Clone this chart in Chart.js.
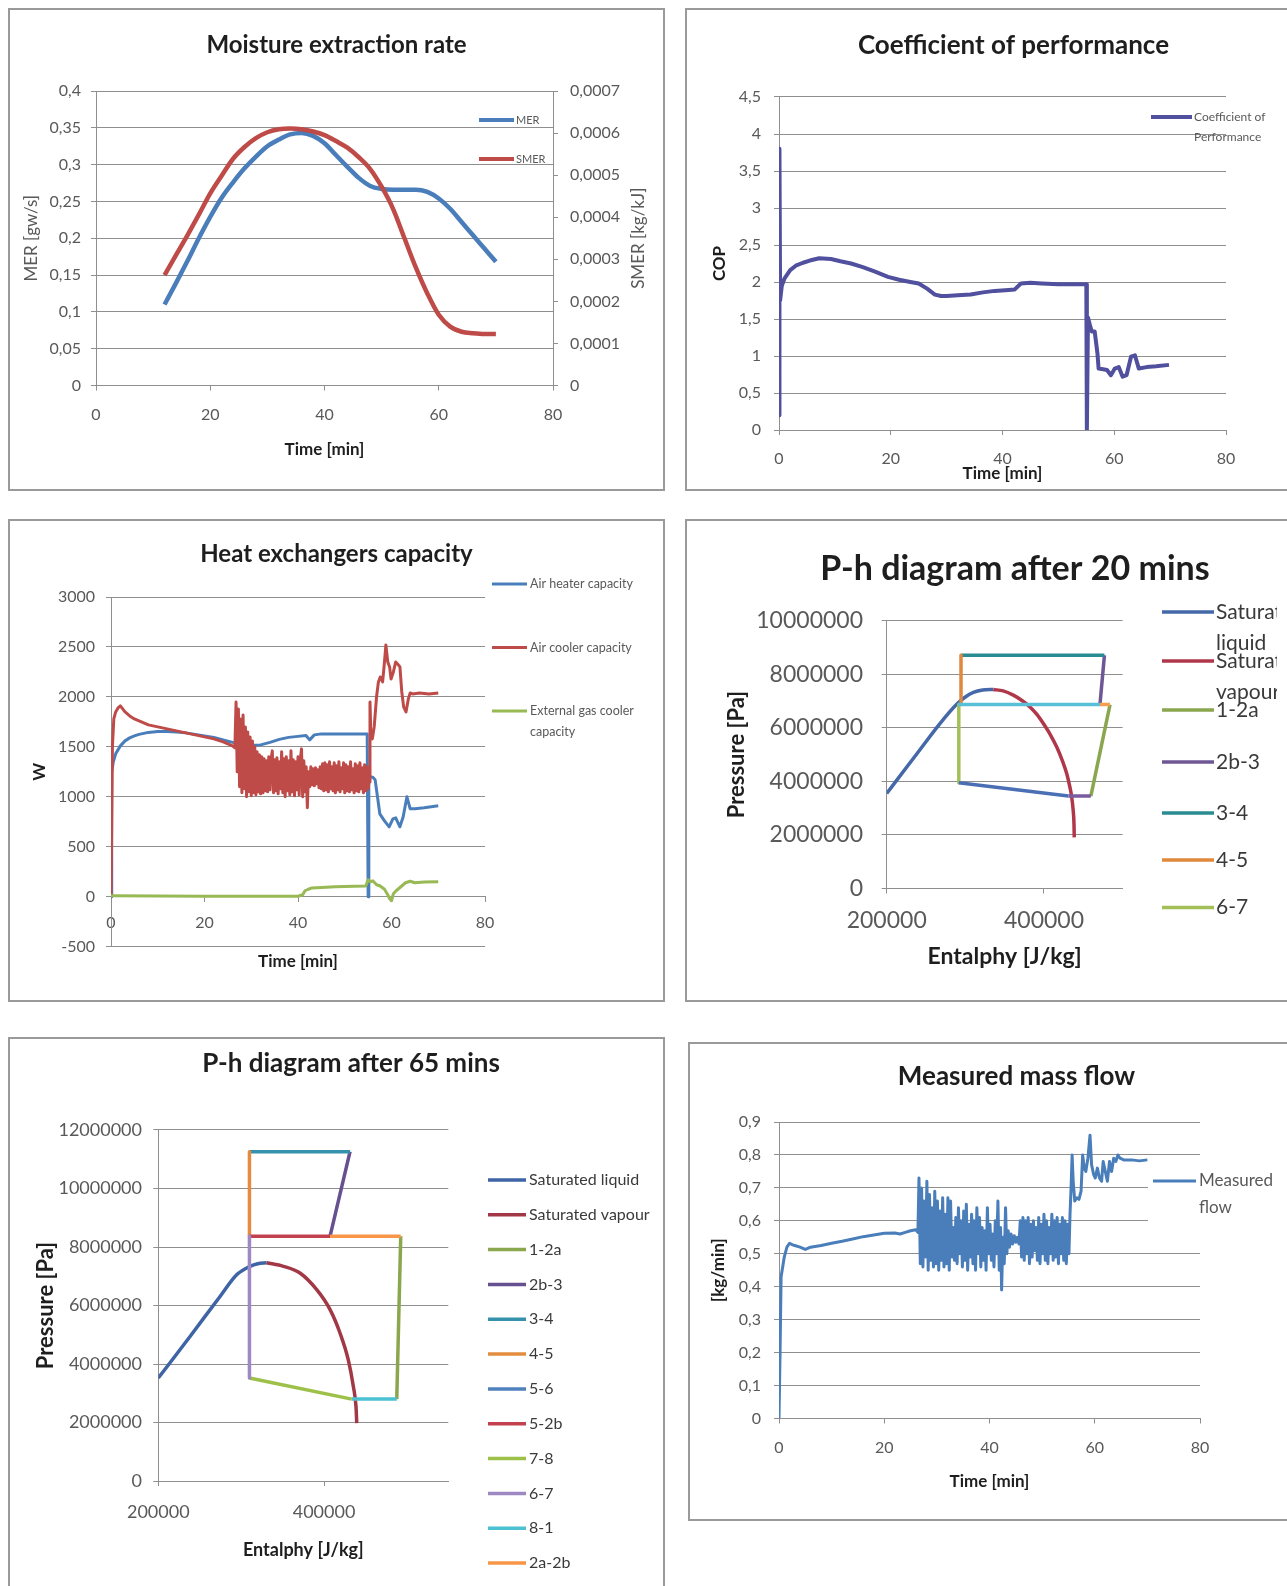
<!DOCTYPE html>
<html><head><meta charset="utf-8">
<script src="https://cdn.jsdelivr.net/npm/chart.js@4.4.1/dist/chart.umd.min.js"></script>
<style>
html,body{margin:0;padding:0;width:1287px;height:1586px;overflow:hidden;background:#fff;}
canvas{position:absolute;}
.frame{position:absolute;border:2px solid #9a9a9a;box-sizing:border-box;pointer-events:none;}
</style></head><body>
<canvas id="c1" width="657" height="483" style="left:8px;top:8px"></canvas>
<canvas id="c2" width="657" height="483" style="left:685px;top:8px"></canvas>
<canvas id="c3" width="657" height="483" style="left:8px;top:519px"></canvas>
<canvas id="c4" width="660" height="483" style="left:685px;top:519px"></canvas>
<canvas id="c5" width="686" height="560" style="left:8px;top:1037px"></canvas>
<canvas id="c6" width="657" height="479" style="left:688px;top:1042px"></canvas>
<div class="frame" style="left:8px;top:8px;width:657px;height:483px"></div>
<div class="frame" style="left:685px;top:8px;width:657px;height:483px"></div>
<div class="frame" style="left:8px;top:519px;width:657px;height:483px"></div>
<div class="frame" style="left:685px;top:519px;width:657px;height:483px"></div>
<div class="frame" style="left:8px;top:1037px;width:657px;height:580px"></div>
<div class="frame" style="left:688px;top:1042px;width:657px;height:479px"></div>
<script>
// ---------------- DATA ----------------
// Moisture extraction rate
const merTime = [12,14,16,18,20,22,24,26,28,30,32,34,36,38,40,42,44,46,48,50,52,54,56,58,60,62,64,66,68,70];
const merValues = [0.110,0.139,0.169,0.200,0.229,0.255,0.276,0.295,0.311,0.325,0.334,0.341,0.343,0.339,0.329,0.313,0.297,0.282,0.271,0.267,0.266,0.266,0.266,0.263,0.254,0.240,0.222,0.204,0.186,0.168];
const smerValues = [0.0002625,0.00030975,0.000357,0.000406,0.00045675,0.00049875,0.000539,0.000567,0.000588,0.000602,0.000609,0.00061075,0.000609,0.00060375,0.000595,0.000581,0.00056525,0.0005425,0.0005145,0.0004725,0.00042,0.00035,0.00028,0.00021875,0.000168,0.00014,0.00012775,0.00012425,0.0001225,0.0001225];
const merTicks = [0,0.05,0.1,0.15,0.2,0.25,0.3,0.35,0.4];
const smerTicks = [0,0.0001,0.0002,0.0003,0.0004,0.0005,0.0006,0.0007];
const timeTicks = [0,20,40,60,80];

// Coefficient of performance [time, COP]
const copPairs = [[0,0.2],[0.08,3.8],[0.2,1.75],[0.5,1.95],[1,2.05],[2,2.16],[3,2.22],[4.3,2.26],[5.5,2.29],[7.2,2.32],[9.3,2.31],[11,2.28],[12.9,2.25],[15,2.2],[17.2,2.14],[19.5,2.07],[21.5,2.03],[23.5,2.0],[25,1.98],[26.5,1.91],[27.9,1.83],[29,1.81],[30,1.81],[32,1.82],[34.3,1.83],[36.5,1.86],[38.6,1.88],[40.5,1.89],[42.2,1.9],[43.3,1.98],[45,1.99],[47,1.98],[50,1.97],[53,1.97],[55,1.97],[55.1,0],[55.3,1.52],[55.7,1.4],[56,1.33],[56.5,1.33],[57,1.03],[57.2,0.83],[58,0.82],[58.7,0.81],[59.4,0.74],[60.1,0.83],[60.8,0.85],[61.5,0.72],[62.2,0.74],[63,0.99],[63.7,1.01],[64.4,0.83],[65.8,0.85],[67.5,0.86],[69.8,0.88]];
const copTicks = [0,0.5,1,1.5,2,2.5,3,3.5,4,4.5];

// Heat exchangers capacity [time, W]
const heaterPairs = [[0,0],[0.15,1250],[0.5,1350],[1,1430],[2,1510],[3,1560],[4,1590],[5,1610],[6,1625],[8,1645],[10,1655],[12,1655],[14,1650],[16,1640],[18,1625],[20,1610],[22,1595],[24,1570],[26,1545],[28,1525],[30,1515],[32,1520],[34,1545],[36,1575],[38,1595],[40,1605],[41.7,1614],[42.5,1570],[43.5,1620],[45,1630],[50,1630],[54.8,1630],[55,0],[55.15,1200],[56,1195],[56.5,1170],[57,1000],[57.5,830],[58.5,760],[59.5,700],[60.3,780],[60.9,790],[61.8,700],[62.5,800],[63.3,1000],[64,880],[65,880],[67,890],[70,910]];
const coolerPairs = [[0,0],[0.3,1500],[0.6,1780],[1,1850],[1.5,1890],[2,1910],[2.5,1880],[3,1850],[4,1810],[5,1780],[6,1760],[7,1740],[8,1720],[10,1700],[12,1680],[14,1660],[16,1640],[18,1620],[20,1600],[22,1580],[24,1550],[25,1530],[26,1510],[26.5,1490],
[26.75,1950],[27,1250],[27.25,1880],[27.5,1100],[27.75,1780],[28,1040],[28.25,1820],[28.5,1080],[28.75,1700],[29,1000],[29.25,1650],[29.5,1050],[29.75,1600],[30,1010],[30.25,1560],[30.5,1040],[30.75,1500],[31,1020],[31.25,1450],[31.5,1050],[31.75,1420],[32,1030],[32.25,1400],[32.5,1040],[32.75,1380],[33,1060],[33.25,1360],[33.5,1050],[33.75,1400],[34,1070],[34.25,1380],[34.5,1460],[34.75,1040],[35,1370],[35.25,1060],[35.5,1390],[35.75,1030],[36,1350],[36.25,1080],[36.5,1450],[36.75,1040],[37,1380],[37.25,1000],[37.5,1400],[37.75,1060],[38,1360],[38.25,1020],[38.5,1460],[38.75,1050],[39,1370],[39.25,1010],[39.5,1350],[39.75,1070],[40,1400],[40.25,1020],[40.5,1380],[40.75,1480],[41,1000],[41.25,1360],[41.5,1050],[41.75,1300],[42,890],[42.25,1250],[42.5,1100],[42.75,1300],[43,1120],[43.25,1280],[43.5,1110],[43.75,1290],[44,1130],[44.25,1270],[44.5,1090],[44.75,1300],[45,1080],[45.25,1330],[45.5,1060],[45.75,1340],[46,1070],[46.25,1320],[46.5,1050],[46.75,1350],[47,1080],[47.25,1300],[47.5,1060],[47.75,1340],[48,1040],[48.25,1310],[48.5,1070],[48.75,1350],[49,1050],[49.25,1290],[49.5,1080],[49.75,1340],[50,1040],[50.25,1320],[50.5,1060],[50.75,1300],[51,1050],[51.25,1350],[51.5,1070],[51.75,1280],[52,1040],[52.25,1330],[52.5,1060],[52.75,1310],[53,1050],[53.25,1340],[53.5,1080],[53.75,1290],[54,1040],[54.25,1320],[54.5,1060],[54.75,1300],[55,1080],
[55.2,1150],[55.4,1950],[55.6,1600],[55.9,1580],[56.3,1700],[56.8,2000],[57.2,2150],[57.6,2200],[58.1,2150],[58.5,2350],[58.8,2520],[59.2,2350],[59.6,2300],[59.9,2180],[60.4,2250],[60.9,2350],[61.3,2330],[61.8,2300],[62.2,2050],[62.6,1900],[63.1,1850],[63.6,1980],[64,2040],[64.5,2030],[66,2040],[68,2030],[70,2040]];
const gasCoolerPairs = [[0,10],[10,8],[20,6],[30,5],[40,5],[41,20],[41.5,60],[42.2,75],[43,88],[45,92],[48,100],[52,105],[54.5,108],[55,170],[55.5,150],[56,160],[56.8,120],[57.5,110],[58.5,75],[59.2,20],[59.6,-20],[60,-40],[60.4,30],[61,60],[62,100],[63,140],[64,155],[65,140],[67,148],[70,150]];
const wTicks = [-500,0,500,1000,1500,2000,2500,3000];

// P-h diagram after 20 mins [h J/kg, P Pa]
const ph20SatLiquid = [[200000,3550000],[235000,4900000],[267700,6160000],[289000,6880000],[300000,7150000],[310200,7320000],[322000,7410000],[335600,7430000]];
const ph20SatVapour = [[335600,7430000],[348000,7380000],[361000,7220000],[372000,7020000],[382200,6780000],[391000,6500000],[399200,6160000],[408000,5750000],[416100,5290000],[423000,4800000],[428800,4300000],[432500,3850000],[435200,3430000],[437200,2900000],[438200,2400000],[438500,1910000]];
const ph20_1_2a = [[459600,3450000],[484000,6870000]];
const ph20_2b_3 = [[471200,6870000],[476900,8710000]];
const ph20_3_4 = [[476900,8710000],[294500,8710000]];
const ph20_4_5 = [[294500,8710000],[294500,6870000]];
const ph20_6_7 = [[291700,6870000],[291700,3950000]];
const ph20_5_2b = [[291000,6870000],[471200,6870000]];
const ph20_7_8 = [[291700,3950000],[431000,3450000]];
const ph20_8_1 = [[431000,3450000],[459600,3450000]];
const ph20_2a_2b = [[471200,6870000],[484000,6870000]];
const ph20PTicks = [0,2000000,4000000,6000000,8000000,10000000];

// P-h diagram after 65 mins
const ph65SatLiquid = [[200000,3520000],[238300,4940000],[274500,6310000],[294600,7050000],[310700,7340000],[320000,7430000],[330800,7460000]];
const ph65SatVapour = [[330800,7460000],[350900,7340000],[371000,7110000],[391200,6540000],[407300,5860000],[419300,5060000],[429300,4140000],[435400,3230000],[438600,2540000],[439500,1980000]];
const ph65_1_2a = [[487800,2800000],[492600,8370000]];
const ph65_2b_3 = [[407300,8370000],[431400,11260000]];
const ph65_3_4 = [[431400,11260000],[310000,11260000]];
const ph65_4_5 = [[310000,11260000],[310000,8370000]];
const ph65_5_6 = [[310000,8370000],[310000,8370000]];
const ph65_5_2b = [[310000,8370000],[407300,8370000]];
const ph65_7_8 = [[310000,3520000],[433400,2800000]];
const ph65_6_7 = [[310000,8370000],[310000,3520000]];
const ph65_8_1 = [[433400,2800000],[487800,2800000]];
const ph65_2a_2b = [[492600,8370000],[407300,8370000]];
const ph65PTicks = [0,2000000,4000000,6000000,8000000,10000000,12000000];
const hTicks = [200000,400000];

// Measured mass flow [time, kg/min]
const flowPairs = [[0,0],[0.2,0.2],[0.4,0.43],[0.7,0.46],[1,0.49],[1.5,0.52],[2,0.532],[2.5,0.528],[3,0.525],[4,0.52],[5,0.513],[6,0.52],[8,0.525],[10,0.532],[12,0.538],[14,0.545],[16,0.552],[18,0.557],[20,0.562],[22,0.563],[23,0.56],[24,0.565],[25,0.57],[26,0.573],[26.4,0.565],
[26.6,0.73],[26.85,0.47],[27.1,0.70],[27.35,0.46],[27.6,0.66],[27.85,0.49],[28.1,0.72],[28.35,0.45],[28.6,0.68],[28.85,0.48],[29.1,0.64],[29.35,0.46],[29.6,0.69],[29.85,0.47],[30.1,0.66],[30.35,0.45],[30.6,0.63],[30.85,0.48],[31.1,0.67],[31.35,0.46],[31.6,0.62],[31.85,0.47],[32.1,0.67],[32.35,0.45],[32.6,0.66],[32.85,0.49],[33.1,0.58],[33.35,0.48],[33.6,0.61],[33.85,0.47],[34.1,0.64],[34.35,0.50],[34.6,0.60],[34.85,0.46],[35.1,0.63],[35.35,0.48],[35.6,0.65],[35.85,0.45],[36.1,0.59],[36.35,0.49],[36.6,0.62],[36.85,0.47],[37.1,0.60],[37.35,0.45],[37.6,0.64],[37.85,0.50],[38.1,0.61],[38.35,0.46],[38.6,0.58],[38.85,0.48],[39.1,0.57],[39.35,0.45],[39.6,0.64],[39.85,0.50],[40.1,0.59],[40.35,0.48],[40.6,0.56],[40.85,0.46],[41.1,0.60],[41.35,0.50],[41.6,0.66],[41.85,0.45],[42.1,0.58],[42.3,0.39],[42.55,0.55],[42.8,0.47],[43.05,0.64],[43.3,0.50],[43.55,0.57],[43.8,0.52],[44.1,0.56],[44.4,0.53],[44.7,0.555],[45,0.535],[45.3,0.55],[45.6,0.53],
[45.85,0.60],[46.1,0.49],[46.35,0.61],[46.6,0.48],[46.85,0.60],[47.1,0.50],[47.35,0.61],[47.6,0.47],[47.85,0.59],[48.1,0.49],[48.35,0.60],[48.6,0.51],[48.85,0.58],[49.1,0.48],[49.35,0.61],[49.6,0.47],[49.85,0.59],[50.1,0.50],[50.35,0.62],[50.6,0.48],[50.85,0.60],[51.1,0.47],[51.35,0.58],[51.6,0.50],[51.85,0.62],[52.1,0.48],[52.35,0.60],[52.6,0.49],[52.85,0.61],[53.1,0.47],[53.35,0.59],[53.6,0.50],[53.85,0.61],[54.1,0.48],[54.35,0.60],[54.6,0.47],[54.85,0.59],[55.1,0.50],[55.3,0.62],
[55.5,0.70],[55.7,0.80],[55.9,0.72],[56.2,0.66],[56.6,0.67],[57,0.665],[57.4,0.69],[57.7,0.80],[58,0.76],[58.3,0.75],[58.7,0.79],[59.1,0.86],[59.4,0.77],[59.8,0.74],[60.1,0.73],[60.5,0.76],[60.9,0.73],[61.3,0.72],[61.6,0.78],[62,0.75],[62.4,0.72],[62.8,0.78],[63.2,0.75],[63.6,0.79],[64,0.78],[64.4,0.80],[64.8,0.79],[65.5,0.785],[67,0.785],[68.5,0.782],[70,0.785]];
const flowTicks = [0,0.1,0.2,0.3,0.4,0.5,0.6,0.7,0.8,0.9];

// ---------------- STYLE / HELPERS ----------------
const FONT = "Lato, 'Open Sans', sans-serif";
const GRID = '#8f8f8f';
const LABEL = '#595959';
const DARK = '#1e1e1e';
Chart.defaults.font.family = FONT;
Chart.defaults.color = LABEL;
Chart.defaults.animation = false;
Chart.defaults.responsive = false;
Chart.defaults.devicePixelRatio = 1;
Chart.defaults.plugins.legend.display = false;
Chart.defaults.plugins.tooltip.enabled = false;
Chart.defaults.elements.point.radius = 0;
Chart.defaults.elements.line.borderJoinStyle = 'round';

const comma = v => String(v).replace('.', ',');
const plain = v => String(v);

function pts(pairs) { return pairs.map(p => ({x: p[0], y: p[1]})); }
function series(label, pairs, color, width, idx, extra) {
  return Object.assign({label, data: pts(pairs), borderColor: color, backgroundColor: color,
    borderWidth: width, showLine: true, pointRadius: 0, fill: false, tension: 0, order: -idx}, extra || {});
}
function axis(o) {
  const s = {
    type: 'linear', position: o.position, min: o.min, max: o.max,
    afterBuildTicks: sc => { sc.ticks = o.ticks.map(v => ({value: v})); },
    ticks: {autoSkip: false, maxRotation: 0, minRotation: 0, padding: o.pad, color: LABEL,
      font: {size: o.size}, callback: o.fmt || comma},
    grid: {display: true, drawOnChartArea: !!o.grid, drawTicks: true, tickLength: 5, color: GRID, lineWidth: 1},
    border: {display: true, color: GRID, width: 1},
    title: o.title ? {display: true, text: o.title, color: o.titleColor || DARK,
      font: {size: o.titleSize, weight: o.titleBold === false ? 'normal' : 'bold'}, padding: o.titlePad} : {display: false}
  };
  if (o.width != null) s.afterFit = sc => { sc.width = o.width; };
  if (o.height != null) s.afterFit = sc => { sc.height = o.height; };
  return s;
}
function spacer(w) {
  return {type: 'linear', position: 'right', display: true, ticks: {display: false},
    grid: {display: false}, border: {display: false}, afterFit: sc => { sc.width = w; }};
}
function chartTitle(text, size, cy, areaTop) {
  const lh = size * 1.2, top = cy - lh / 2;
  return {display: true, text, color: DARK, font: {size, weight: 'bold'}, padding: {top, bottom: areaTop - top - lh}};
}
function legendPlugin(o) {
  return {id: 'handLegend', afterDraw(chart) {
    const ctx = chart.ctx;
    ctx.save();
    if (o.clipX) { ctx.beginPath(); ctx.rect(0, 0, o.clipX, chart.height); ctx.clip(); }
    if (o.bg) { ctx.fillStyle = '#fff'; ctx.fillRect(o.bg[0], o.bg[1], o.bg[2], o.bg[3]); }
    ctx.font = o.size + 'px ' + FONT;
    ctx.textBaseline = 'middle'; ctx.textAlign = 'left';
    o.items.forEach(it => {
      const ds = chart.data.datasets[it[0]];
      ctx.strokeStyle = ds.borderColor; ctx.lineWidth = o.lineWidth;
      ctx.beginPath(); ctx.moveTo(o.x0, it[1]); ctx.lineTo(o.x1, it[1]); ctx.stroke();
      ctx.fillStyle = o.color;
      it[2].forEach((t, k) => ctx.fillText(t, o.tx, it[1] + k * o.lh));
    });
    ctx.restore();
  }};
}

// ---------------- 1. Moisture extraction rate ----------------
new Chart(document.getElementById('c1'), {
  type: 'scatter',
  data: {datasets: [
    series('MER', merTime.map((t, i) => [t, merValues[i]]), '#4A7EBB', 4.5, 0, {yAxisID: 'y', cubicInterpolationMode: 'monotone'}),
    series('SMER', merTime.map((t, i) => [t, smerValues[i]]), '#BE4B48', 4.5, 1, {yAxisID: 'y2', cubicInterpolationMode: 'monotone'})
  ]},
  options: {
    layout: {padding: 0},
    plugins: {title: chartTitle('Moisture extraction rate', 24, 37.5, 83)},
    scales: {
      x: axis({position: 'bottom', min: 0, max: 80, ticks: timeTicks, pad: 15, size: 16, height: 105.5,
        title: 'Time [min]', titleSize: 17, titlePad: {bottom: 30.8}}),
      y: axis({position: 'left', min: 0, max: 0.4, ticks: merTicks, pad: 10, size: 16, width: 88, grid: true,
        title: 'MER [gw/s]', titleSize: 17, titleBold: false, titleColor: LABEL, titlePad: {top: 13.8}}),
      y2: axis({position: 'right', min: 0, max: 0.0007, ticks: smerTicks, pad: 12, size: 16, width: 112})
    }
  },
  plugins: [
    legendPlugin({x0: 471, x1: 506, tx: 508, size: 11, lh: 13, lineWidth: 4, color: LABEL,
      items: [[0, 112, ['MER']], [1, 151, ['SMER']]]}),
    {id: 'sideTitle', afterDraw(chart) {
      const ctx = chart.ctx, a = chart.chartArea;
      ctx.save(); ctx.translate(631, (a.top + a.bottom) / 2); ctx.rotate(-Math.PI / 2);
      ctx.font = '17px ' + FONT; ctx.fillStyle = LABEL; ctx.textAlign = 'center'; ctx.textBaseline = 'middle';
      ctx.fillText('SMER [kg/kJ]', 0, 0); ctx.restore();
    }}
  ]
});

// ---------------- 2. Coefficient of performance ----------------
new Chart(document.getElementById('c2'), {
  type: 'scatter',
  data: {datasets: [series('Coefficient of Performance', copPairs, '#50509E', 4, 0)]},
  options: {
    layout: {padding: 0},
    plugins: {title: chartTitle('Coefficient of performance', 26, 37.5, 89)},
    scales: {
      x: axis({position: 'bottom', min: 0, max: 80, ticks: timeTicks, pad: 14.4, size: 16, height: 61,
        title: 'Time [min]', titleSize: 17, titlePad: {bottom: 7.3}}),
      y: axis({position: 'left', min: 0, max: 4.5, ticks: copTicks, pad: 13, size: 16, width: 94, grid: true,
        title: 'COP', titleSize: 17, titlePad: {top: 24.8}}),
      yR: spacer(116)
    }
  },
  plugins: [legendPlugin({x0: 466, x1: 507, tx: 509, size: 12, lh: 20, lineWidth: 4, color: LABEL,
    items: [[0, 109, ['Coefficient of', 'Performance']]]})]
});

// ---------------- 3. Heat exchangers capacity ----------------
new Chart(document.getElementById('c3'), {
  type: 'scatter',
  data: {datasets: [
    series('Air heater capacity', heaterPairs, '#4A7EBB', 3, 0),
    series('Air cooler capacity', coolerPairs, '#BE4B48', 3, 1),
    series('External gas cooler capacity', gasCoolerPairs, '#98B954', 3, 2)
  ]},
  options: {
    layout: {padding: 0},
    plugins: {title: chartTitle('Heat exchangers capacity', 24, 35.5, 78)},
    scales: {
      x: axis({position: {y: 0}, min: 0, max: 80, ticks: timeTicks, pad: 11.7, size: 16, height: 0}),
      x2: {type: 'linear', position: 'bottom', min: 0, max: 80, display: true, ticks: {display: false},
        grid: {display: false}, border: {display: false},
        title: {display: true, text: 'Time [min]', color: DARK, font: {size: 17, weight: 'bold'}, padding: {bottom: 29.8}},
        afterFit: sc => { sc.height = 55.3; }},
      y: axis({position: 'left', min: -500, max: 3000, ticks: wTicks, pad: 11, size: 16, width: 103, grid: true,
        fmt: plain, title: 'W', titleSize: 17, titlePad: {top: 21.8}}),
      yR: spacer(180)
    }
  },
  plugins: [legendPlugin({x0: 484, x1: 519, tx: 522, size: 12.5, lh: 20.5, lineWidth: 3, color: LABEL,
    items: [[0, 65, ['Air heater capacity']], [1, 128.5, ['Air cooler capacity']], [2, 192, ['External gas cooler', 'capacity']]]})]
});

// ---------------- 4. P-h diagram after 20 mins ----------------
new Chart(document.getElementById('c4'), {
  type: 'scatter',
  data: {datasets: [
    series('Saturated liquid', ph20SatLiquid, '#4468A8', 3.5, 0, {cubicInterpolationMode: 'monotone'}),
    series('Saturated vapour', ph20SatVapour, '#B0374A', 3.5, 1, {cubicInterpolationMode: 'monotone'}),
    series('1-2a', ph20_1_2a, '#8AA64F', 3.5, 2),
    series('2b-3', ph20_2b_3, '#6F5796', 3.5, 3),
    series('3-4', ph20_3_4, '#2A8C93', 3.5, 4),
    series('4-5', ph20_4_5, '#E0883C', 3.5, 5),
    series('6-7', ph20_6_7, '#A3C058', 3.5, 6),
    series('5-2b', ph20_5_2b, '#58BFD8', 3.5, 7),
    series('7-8', ph20_7_8, '#4A6FB5', 3.5, 8),
    series('8-1', ph20_8_1, '#7A5AA0', 3.5, 9),
    series('2a-2b', ph20_2a_2b, '#F5A04E', 3.5, 10)
  ]},
  options: {
    layout: {padding: 0},
    plugins: {title: chartTitle('P-h diagram after 20 mins', 34, 50, 101.7)},
    scales: {
      x: axis({position: 'bottom', min: 200000, max: 500000, ticks: hTicks, pad: 13.7, size: 23, height: 113.5,
        fmt: plain, title: 'Entalphy [J/kg]', titleSize: 23, titlePad: {bottom: 31.2}}),
      y: axis({position: 'left', min: 0, max: 10000000, ticks: ph20PTicks, pad: 18.7, size: 23, width: 201.7, grid: true,
        fmt: plain, title: 'Pressure [Pa]', titleSize: 22, titlePad: {top: 38.8}}),
      yR: spacer(222.4)
    }
  },
  plugins: [legendPlugin({x0: 477, x1: 529, tx: 531, size: 21, lh: 31, lineWidth: 3.5, color: '#3a3a3a', clipX: 592,
    items: [[0, 93, ['Saturated', 'liquid']], [1, 142, ['Saturated', 'vapour']], [2, 191, ['1-2a']], [3, 243, ['2b-3']],
            [4, 294, ['3-4']], [5, 341, ['4-5']], [6, 388.6, ['6-7']]]})]
});

// ---------------- 5. P-h diagram after 65 mins ----------------
new Chart(document.getElementById('c5'), {
  type: 'scatter',
  data: {datasets: [
    series('Saturated liquid', ph65SatLiquid, '#3E64A6', 3.5, 0, {cubicInterpolationMode: 'monotone'}),
    series('Saturated vapour', ph65SatVapour, '#A23846', 3.5, 1, {cubicInterpolationMode: 'monotone'}),
    series('1-2a', ph65_1_2a, '#8BA74E', 3.5, 2),
    series('2b-3', ph65_2b_3, '#66508F', 3.5, 3),
    series('3-4', ph65_3_4, '#3591AC', 3.5, 4),
    series('4-5', ph65_4_5, '#E38C3E', 3.5, 5),
    series('5-6', ph65_5_6, '#4F81BD', 3.5, 6),
    series('5-2b', ph65_5_2b, '#C3404E', 3.5, 7),
    series('7-8', ph65_7_8, '#9DC048', 3.5, 8),
    series('6-7', ph65_6_7, '#9E88C4', 3.5, 9),
    series('8-1', ph65_8_1, '#4CC1D2', 3.5, 10),
    series('2a-2b', ph65_2a_2b, '#F79646', 3.5, 11)
  ]},
  options: {
    layout: {padding: 0},
    plugins: {title: chartTitle('P-h diagram after 65 mins', 26, 27, 93)},
    scales: {
      x: axis({position: 'bottom', min: 200000, max: 550000, ticks: hTicks, pad: 15.2, size: 18, height: 116,
        fmt: plain, title: 'Entalphy [J/kg]', titleSize: 18, titlePad: {bottom: 36.2}}),
      y: axis({position: 'left', min: 0, max: 12000000, ticks: ph65PTicks, pad: 11.3, size: 18, width: 150.3, grid: true,
        fmt: plain, title: 'Pressure [Pa]', titleSize: 22, titlePad: {top: 24.3}}),
      yR: spacer(245.7)
    }
  },
  plugins: [legendPlugin({x0: 480, x1: 518, tx: 521, size: 16, lh: 18, lineWidth: 3.5, color: '#3a3a3a',
    items: [[0, 143, ['Saturated liquid']], [1, 177.8, ['Saturated vapour']], [2, 212.6, ['1-2a']], [3, 247.5, ['2b-3']],
            [4, 282.3, ['3-4']], [5, 317.1, ['4-5']], [6, 351.9, ['5-6']], [7, 386.7, ['5-2b']],
            [8, 421.6, ['7-8']], [9, 456.4, ['6-7']], [10, 491.2, ['8-1']], [11, 526, ['2a-2b']]]})]
});

// ---------------- 6. Measured mass flow ----------------
new Chart(document.getElementById('c6'), {
  type: 'scatter',
  data: {datasets: [series('Measured flow', flowPairs, '#4A7EBB', 3, 0)]},
  options: {
    layout: {padding: 0},
    plugins: {title: chartTitle('Measured mass flow', 26, 34.5, 80)},
    scales: {
      x: axis({position: 'bottom', min: 0, max: 80, ticks: timeTicks, pad: 14.9, size: 16, height: 102.5,
        title: 'Time [min]', titleSize: 17, titlePad: {bottom: 28.8}}),
      y: axis({position: 'left', min: 0, max: 0.9, ticks: flowTicks, pad: 13, size: 16, width: 91, grid: true,
        title: '[kg/min]', titleSize: 17, titlePad: {top: 20.8}}),
      yR: spacer(145)
    }
  },
  plugins: [legendPlugin({x0: 465, x1: 508, tx: 511, size: 17, lh: 27, lineWidth: 3, color: LABEL,
    bg: [460, 125, 197, 55], items: [[0, 139, ['Measured', 'flow']]]})]
});
</script>
</body></html>
